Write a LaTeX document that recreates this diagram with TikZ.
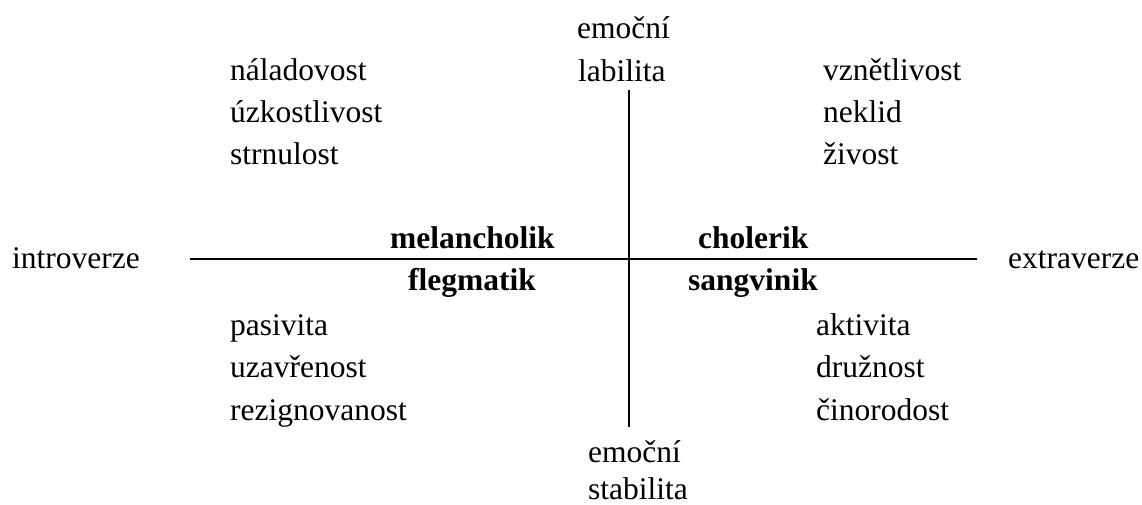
\documentclass[tikz,border=0pt]{standalone}
\usepackage{fontspec}
\setmainfont{Liberation Serif}
\begin{document}
\begin{tikzpicture}[x=1pt,y=-1pt,
  lbl/.style={anchor=base west,inner sep=0pt,font=\fontsize{31.5}{36}\selectfont},
  bld/.style={lbl,font=\fontsize{31.5}{36}\selectfont\bfseries},
  axis/.style={line width=2pt}]
\useasboundingbox (0,0) rectangle (1142,505);
% axes
\coordinate (L) at (190,259);
\coordinate (R) at (977,259);
\coordinate (T) at (629,90);
\coordinate (B) at (629,427);
\draw[axis] (L) -- (R);
\draw[axis] (T) -- (B);
% top labels
\node[lbl] (emo1) at (577,39) {emoční};
\node[lbl] (lab) at (578,82) {labilita};
% bottom labels
\node[lbl] (emo2) at (588,462) {emoční};
\node[lbl] (stab) at (588,499) {stabilita};
% side labels
\node[lbl] (intro) at (12,268) {introverze};
\node[lbl] (extra) at (1008,268) {extraverze};
% top left
\node[lbl] (nal) at (230,81) {náladovost};
\node[lbl] (uzk) at (230,123) {úzkostlivost};
\node[lbl] (str) at (230,165) {strnulost};
% top right
\node[lbl] (vzn) at (823,81) {vznětlivost};
\node[lbl] (nek) at (823,123) {neklid};
\node[lbl] (ziv) at (823,165) {živost};
% types
\node[bld] (mel) at (390,248) {melancholik};
\node[bld] (cho) at (698,248) {cholerik};
\node[bld] (fle) at (408,290) {flegmatik};
\node[bld] (san) at (688,290) {sangvinik};
% bottom left
\node[lbl] (pas) at (230,335) {pasivita};
\node[lbl] (uza) at (230,377) {uzavřenost};
\node[lbl] (rez) at (230,420) {rezignovanost};
% bottom right
\node[lbl] (akt) at (816,335) {aktivita};
\node[lbl] (dru) at (816,377) {družnost};
\node[lbl] (cin) at (816,420) {činorodost};
\end{tikzpicture}
\end{document}
